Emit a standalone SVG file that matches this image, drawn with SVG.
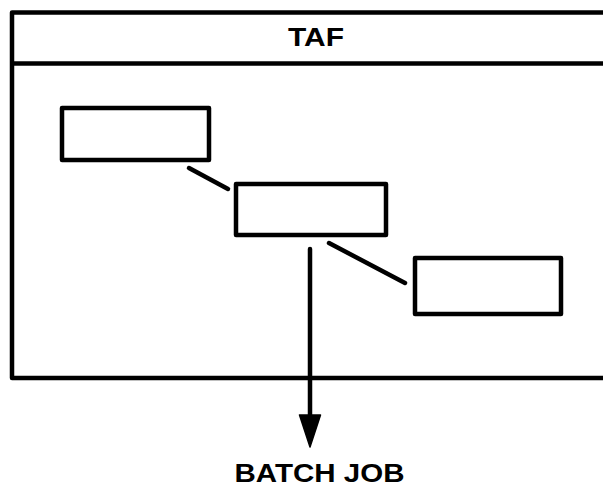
<svg xmlns="http://www.w3.org/2000/svg" width="603" height="489" viewBox="0 0 603 489">
<style>
.frame{fill:none;stroke:#000;stroke-width:4.5;stroke-linejoin:round}
.box{fill:#fff;stroke:#000;stroke-width:4.5;stroke-linejoin:round}
.conn{stroke:#000;stroke-width:4.5;stroke-linecap:round;fill:none}
.head{fill:#000;stroke:#000;stroke-width:1.5;stroke-linejoin:round}
.lbl{font-family:"Liberation Sans",Arial,sans-serif;font-weight:bold;fill:#000;text-anchor:middle}
</style>
<rect width="603" height="489" fill="#fff"/>
<g id="taf">
<path class="frame" d="M610,12.5 L12,12.5 L12,378 L610,378"/>
<line class="frame" x1="12" y1="63.5" x2="610" y2="63.5"/>
<text class="lbl" x="316" y="46" font-size="26" textLength="56" lengthAdjust="spacingAndGlyphs">TAF</text>
</g>
<g id="connectors">
<line class="conn" x1="189" y1="168" x2="228" y2="189"/>
<line class="conn" x1="329" y1="243" x2="405" y2="283"/>
<line class="conn" x1="310" y1="249" x2="310" y2="418"/>
<path class="head" d="M299.5,415 L320.5,415 L310,447 Z"/>
</g>
<g id="node1"><rect class="box" x="62" y="108" width="147" height="52"/></g>
<g id="node2"><rect class="box" x="236" y="184" width="150" height="51"/></g>
<g id="node3"><rect class="box" x="415" y="258" width="146" height="56"/></g>
<g id="batch">
<text class="lbl" x="319.5" y="482" font-size="26" textLength="170" lengthAdjust="spacingAndGlyphs">BATCH JOB</text>
</g>
</svg>
